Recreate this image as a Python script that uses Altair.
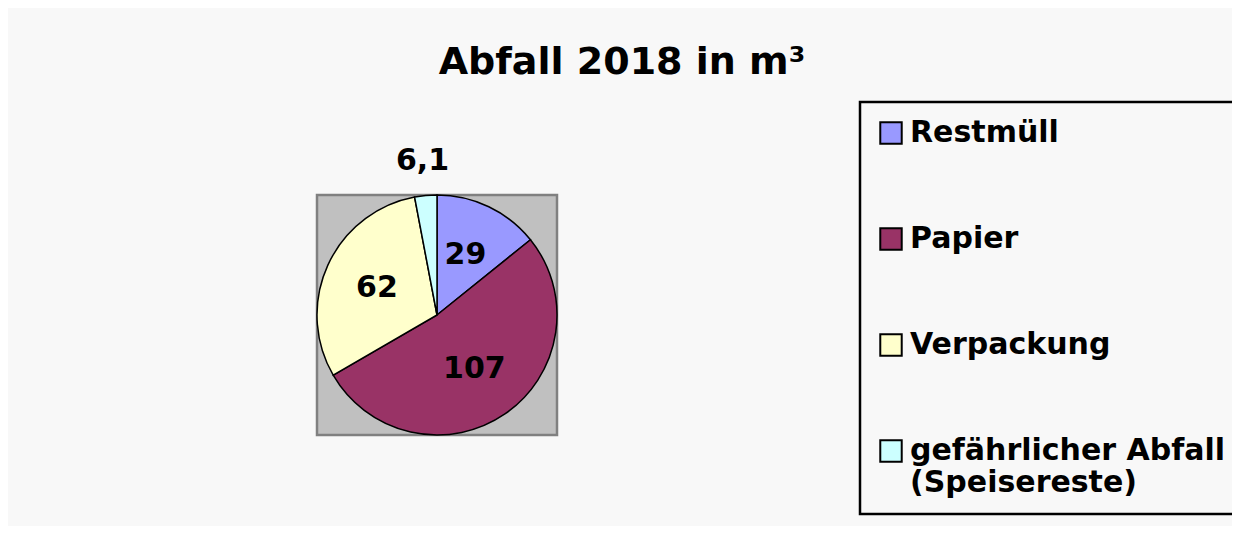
import altair as alt
import pandas as pd

categories = ["Restmüll", "Papier", "Verpackung", "gefährlicher Abfall|(Speisereste)"]
values = [29, 107, 62, 6.1]
colors = ["#9999ff", "#993366", "#ffffcc", "#ccffff"]

df = pd.DataFrame({"cat": categories, "value": values, "idx": list(range(len(categories)))})

bg = alt.Chart(pd.DataFrame({"a": [0]})).mark_rect(
    fill="#c0c0c0", stroke="#808080", strokeWidth=2.5
).encode(x=alt.value(0), x2=alt.value(240), y=alt.value(0), y2=alt.value(240))

pie = alt.Chart(df).mark_arc(stroke="black", strokeWidth=1.5).encode(
    theta=alt.Theta("value:Q", stack=True),
    order=alt.Order("idx:Q"),
    color=alt.Color(
        "cat:N",
        scale=alt.Scale(domain=categories, range=colors),
        sort=categories,
        legend=alt.Legend(
            orient="none", legendX=543, legendY=-93, title=None,
            symbolType="square", symbolSize=460, symbolStrokeColor="black",
            symbolStrokeWidth=2, symbolOpacity=1,
            labelFont="DejaVu Sans", labelFontWeight="bold", labelFontSize=30,
            labelColor="black", labelLimit=0, labelOffset=4,
            labelExpr="split(datum.label, '|')",
            rowPadding=76, padding=16, strokeColor="black",
        ),
    ),
)

labels = alt.Chart(df).transform_window(
    cum="sum(value)", sort=[alt.SortField("idx")]
).transform_joinaggregate(
    total="sum(value)"
).transform_calculate(
    mid="(datum.cum - datum.value / 2) / datum.total * 2 * PI",
    lbl="replace(toString(datum.value), '.', ',')",
    r="datum.value > 10 ? 66 : 155",
).mark_text(
    font="DejaVu Sans", fontWeight="bold", fontSize=30, color="black"
).encode(
    theta=alt.Theta("mid:Q", scale=None),
    radius=alt.Radius("r:Q", scale=None),
    text="lbl:N",
)

chart = alt.layer(bg, pie, labels).properties(
    width=240, height=240,
    autosize=alt.AutoSizeParams(type="none"),
    padding={"left": 309, "top": 187, "right": 675, "bottom": 91},
    background="#f8f8f8",
    title=alt.TitleParams(
        "Abfall 2018 in m³", font="DejaVu Sans", fontWeight="bold", fontSize=38,
        color="black", anchor="middle", frame="group", dx=185, offset=19,
    ),
).configure_view(
    stroke=None
).configure_legend(strokeWidth=2.5)

chart.save("out.html", embed_options={"renderer": "svg", "actions": False})
